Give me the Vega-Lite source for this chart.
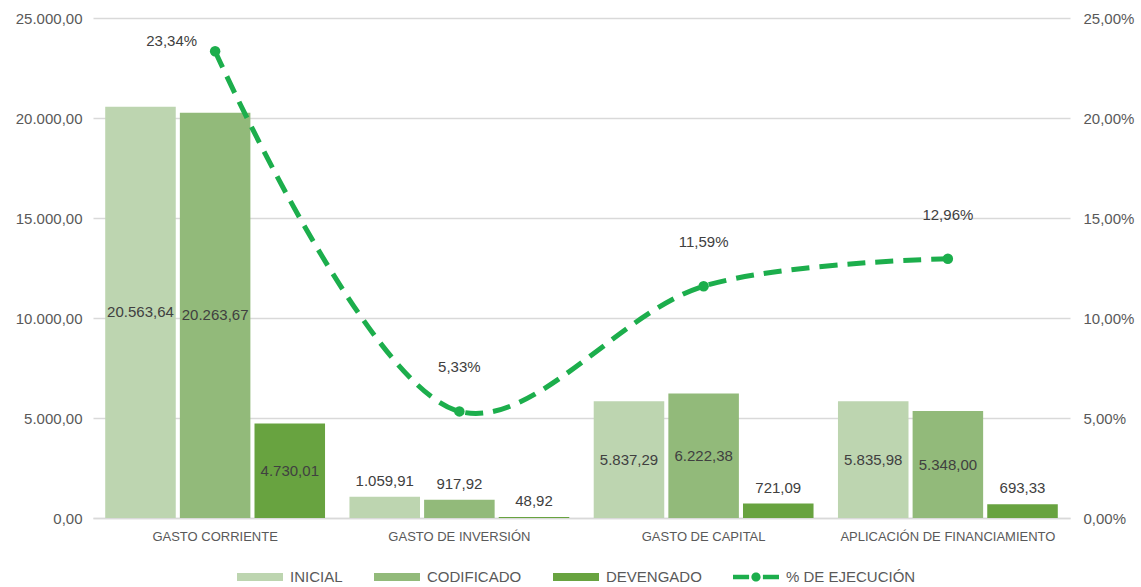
{
  "$schema": "https://vega.github.io/schema/vega-lite/v6.json",
  "width": 977,
  "height": 500,
  "autosize": "none",
  "padding": {"left": 93, "top": 18, "right": 71, "bottom": 69},
  "config": {
    "locale": {"number": {"decimal": ",", "thousands": ".", "grouping": [3], "currency": ["", ""]}},
    "view": {"stroke": null},
    "font": "Liberation Sans",
    "axis": {"labelFont": "Liberation Sans", "labelColor": "#595959", "ticks": false, "title": null, "labelOverlap": false}
  },
  "datasets": {
    "bars": [
      {"categoria": "GASTO CORRIENTE", "serie": "INICIAL", "valor": 20563.64},
      {"categoria": "GASTO CORRIENTE", "serie": "CODIFICADO", "valor": 20263.67},
      {"categoria": "GASTO CORRIENTE", "serie": "DEVENGADO", "valor": 4730.01},
      {"categoria": "GASTO DE INVERSIÓN", "serie": "INICIAL", "valor": 1059.91},
      {"categoria": "GASTO DE INVERSIÓN", "serie": "CODIFICADO", "valor": 917.92},
      {"categoria": "GASTO DE INVERSIÓN", "serie": "DEVENGADO", "valor": 48.92},
      {"categoria": "GASTO DE CAPITAL", "serie": "INICIAL", "valor": 5837.29},
      {"categoria": "GASTO DE CAPITAL", "serie": "CODIFICADO", "valor": 6222.38},
      {"categoria": "GASTO DE CAPITAL", "serie": "DEVENGADO", "valor": 721.09},
      {"categoria": "APLICACIÓN DE FINANCIAMIENTO", "serie": "INICIAL", "valor": 5835.98},
      {"categoria": "APLICACIÓN DE FINANCIAMIENTO", "serie": "CODIFICADO", "valor": 5348.00},
      {"categoria": "APLICACIÓN DE FINANCIAMIENTO", "serie": "DEVENGADO", "valor": 693.33}
    ],
    "exec": [
      {"categoria": "GASTO CORRIENTE", "pct": 0.2334},
      {"categoria": "GASTO DE INVERSIÓN", "pct": 0.0533},
      {"categoria": "GASTO DE CAPITAL", "pct": 0.1159},
      {"categoria": "APLICACIÓN DE FINANCIAMIENTO", "pct": 0.1296}
    ]
  },
  "encoding": {
    "x": {
      "field": "categoria",
      "type": "nominal",
      "sort": ["GASTO CORRIENTE", "GASTO DE INVERSIÓN", "GASTO DE CAPITAL", "APLICACIÓN DE FINANCIAMIENTO"],
      "scale": {"paddingInner": 0.1, "paddingOuter": 0.05},
      "axis": {"labelAngle": 0, "labelFontSize": 13, "labelPadding": 12, "labelLimit": 0, "domain": true, "domainColor": "#d9d9d9", "domainWidth": 1.5, "grid": false}
    }
  },
  "layer": [
    {
      "data": {"name": "bars"},
      "encoding": {
        "xOffset": {"field": "serie", "type": "nominal", "sort": ["INICIAL", "CODIFICADO", "DEVENGADO"], "scale": {"paddingInner": 0.055}}
      },
      "layer": [
        {
          "mark": {"type": "bar"},
          "encoding": {
            "y": {
              "field": "valor", "type": "quantitative",
              "scale": {"domain": [0, 25000], "nice": false},
              "axis": {"orient": "left", "format": ",.2f", "values": [0, 5000, 10000, 15000, 20000, 25000], "labelFontSize": 15, "labelPadding": 11, "labelOverlap": false, "domain": false, "grid": true, "gridColor": "#d9d9d9", "gridWidth": 1.5}
            },
            "color": {
              "field": "serie", "type": "nominal",
              "scale": {"domain": ["INICIAL", "CODIFICADO", "DEVENGADO", "% DE EJECUCIÓN"], "range": ["#bdd5b0", "#92ba7a", "#68a340", "#1cae4c"]},
              "legend": {
                "title": null,
                "orient": "none",
                "legendX": 144,
                "legendY": 536,
                "direction": "horizontal",
                "labelFontSize": 15,
                "labelColor": "#595959",
                "labelFont": "Liberation Sans",
                "labelOffset": 7,
                "columnPadding": 31,
                "symbolSize": 2116,
                "symbolType": "M-1,-0.17H1V0.17H-1Z",
                "encode": {
                  "symbols": {
                    "update": {
                      "shape": {"signal": "datum.value === '% DE EJECUCIÓN' ? 'M-1,-0.1H-0.3V0.1H-1Z M0.3,-0.1H1V0.1H0.3Z M-0.2,0A0.2,0.2 0 1,0 0.2,0A0.2,0.2 0 1,0 -0.2,0Z' : 'M-1,-0.17H1V0.17H-1Z'"},
                      "fill": {"scale": "color", "field": "value"},
                      "strokeWidth": {"value": 0},
                      "opacity": {"value": 1}
                    }
                  }
                }
              }
            }
          }
        },
        {
          "transform": [{"filter": "datum.valor > 4000"}, {"calculate": "datum.valor / 2", "as": "mid"}],
          "mark": {"type": "text", "fontSize": 15, "color": "#404040", "baseline": "middle"},
          "encoding": {
            "y": {"field": "mid", "type": "quantitative", "scale": {"domain": [0, 25000], "nice": false}},
            "text": {"field": "valor", "type": "quantitative", "format": ",.2f"}
          }
        },
        {
          "transform": [{"filter": "datum.valor <= 4000"}],
          "mark": {"type": "text", "fontSize": 15, "color": "#404040", "baseline": "middle", "dy": -16},
          "encoding": {
            "y": {"field": "valor", "type": "quantitative", "scale": {"domain": [0, 25000], "nice": false}},
            "text": {"field": "valor", "type": "quantitative", "format": ",.2f"}
          }
        }
      ]
    },
    {
      "data": {"name": "exec"},
      "layer": [
        {
          "mark": {"type": "line", "interpolate": "catmull-rom", "strokeDash": [18, 10], "strokeWidth": 5},
          "encoding": {
            "y": {
              "field": "pct", "type": "quantitative",
              "scale": {"domain": [0, 0.25], "nice": false},
              "axis": {"orient": "right", "format": ".2%", "values": [0, 0.05, 0.1, 0.15, 0.2, 0.25], "labelFontSize": 15, "labelPadding": 13, "labelOverlap": false, "domain": false, "grid": false}
            },
            "color": {"datum": "% DE EJECUCIÓN"}
          }
        },
        {
          "mark": {"type": "circle", "size": 110, "opacity": 1},
          "encoding": {
            "y": {"field": "pct", "type": "quantitative", "scale": {"domain": [0, 0.25], "nice": false}},
            "color": {"datum": "% DE EJECUCIÓN"}
          }
        },
        {
          "transform": [{"filter": "datum.categoria === 'GASTO CORRIENTE'"}],
          "mark": {"type": "text", "fontSize": 15, "color": "#404040", "align": "right", "baseline": "middle", "dx": -18, "dy": -10},
          "encoding": {
            "y": {"field": "pct", "type": "quantitative", "scale": {"domain": [0, 0.25], "nice": false}},
            "text": {"field": "pct", "type": "quantitative", "format": ".2%"}
          }
        },
        {
          "transform": [{"filter": "datum.categoria !== 'GASTO CORRIENTE'"}],
          "mark": {"type": "text", "fontSize": 15, "color": "#404040", "align": "center", "baseline": "middle", "dy": -44},
          "encoding": {
            "y": {"field": "pct", "type": "quantitative", "scale": {"domain": [0, 0.25], "nice": false}},
            "text": {"field": "pct", "type": "quantitative", "format": ".2%"}
          }
        }
      ]
    }
  ],
  "resolve": {"scale": {"y": "independent"}}
}
